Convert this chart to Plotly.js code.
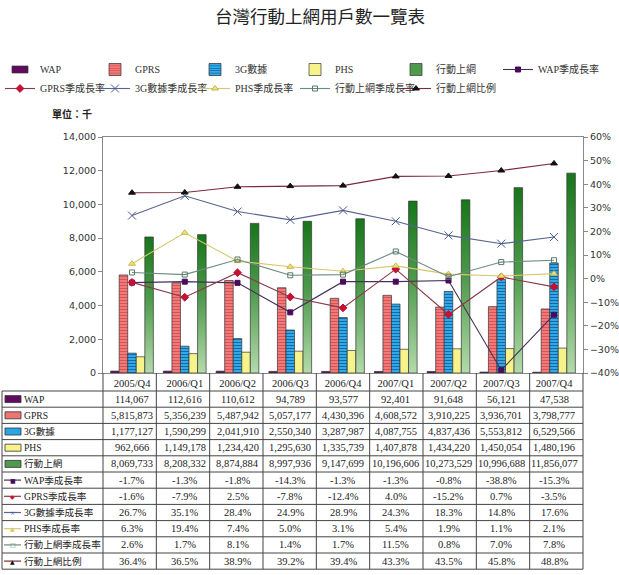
<!DOCTYPE html>
<html>
<head>
<meta charset="utf-8">
<script src="https://cdn.plot.ly/plotly-3.0.1.min.js"></script>
<style>
  html, body { margin: 0; padding: 0; background: #fff; }
  #chart { width: 619px; height: 575px; }
</style>
</head>
<body>
<div id="chart"></div>
<script>
// Quarters
const quarters = ['2005/Q4', '2006/Q1', '2006/Q2', '2006/Q3', '2006/Q4', '2007/Q1', '2007/Q2', '2007/Q3', '2007/Q4'];

// Subscriber counts (users)
const wapUsers    = [114067, 112616, 110612, 94789, 93577, 92401, 91648, 56121, 47538];
const gprsUsers   = [5815873, 5356239, 5487942, 5057177, 4430396, 4608572, 3910225, 3936701, 3798777];
const g3Users     = [1177127, 1590299, 2041910, 2550340, 3287987, 4087755, 4837436, 5553812, 6529566];
const phsUsers    = [962666, 1149178, 1234420, 1295630, 1335739, 1407878, 1434220, 1450054, 1480196];
const mobileUsers = [8069733, 8208332, 8874884, 8997936, 9147699, 10196606, 10273529, 10996688, 11856077];

// Quarter-on-quarter growth and share (%)
const wapGrowth    = [-1.7, -1.3, -1.8, -14.3, -1.3, -1.3, -0.8, -38.8, -15.3];
const gprsGrowth   = [-1.6, -7.9, 2.5, -7.8, -12.4, 4.0, -15.2, 0.7, -3.5];
const g3Growth     = [26.7, 35.1, 28.4, 24.9, 28.9, 24.3, 18.3, 14.8, 17.6];
const phsGrowth    = [6.3, 19.4, 7.4, 5.0, 3.1, 5.4, 1.9, 1.1, 2.1];
const mobileGrowth = [2.6, 1.7, 8.1, 1.4, 1.7, 11.5, 0.8, 7.0, 7.8];
const mobileShare  = [36.4, 36.5, 38.9, 39.2, 39.4, 43.3, 43.5, 45.8, 48.8];

// Series names
const barNames  = ['WAP', 'GPRS', '3G數據', 'PHS', '行動上網'];
const lineNames = ['WAP季成長率', 'GPRS季成長率', '3G數據季成長率', 'PHS季成長率', '行動上網季成長率', '行動上網比例'];

const barValues  = [wapUsers, gprsUsers, g3Users, phsUsers, mobileUsers];
const lineValues = [wapGrowth, gprsGrowth, g3Growth, phsGrowth, mobileGrowth, mobileShare];

// ---- styles ----
const barStyles = [
  { color: '#600a60' },
  { color: '#f07474', pattern: { shape: '-', fgcolor: '#d65050', bgcolor: '#f07a7a', size: 3, solidity: 0.3 } },
  { color: '#2aa6e4', pattern: { shape: '-', fgcolor: '#16609c', bgcolor: '#2eaae8', size: 3, solidity: 0.3 } },
  { color: '#f6f38a' },
  { color: '#4f9a4c' }
];
const lineStyles = [
  { line: '#44305a', symbol: 'square', size: 5, mcolor: '#4b0b5b', mline: '#4b0b5b', key: '■' },
  { line: '#8a3a48', symbol: 'diamond', size: 6, mcolor: '#c41232', mline: '#c41232', key: '◆' },
  { line: '#56648f', symbol: 'x-thin-open', size: 8, mcolor: '#4a5a8e', mline: '#4a5a8e', key: '×' },
  { line: '#d6c86e', symbol: 'triangle-up', size: 6, mcolor: '#eee27a', mline: '#c8b648', key: '▲' },
  { line: '#6a8e7e', symbol: 'square-open', size: 5, mcolor: '#5a7a6a', mline: '#5a7a6a', key: '□' },
  { line: '#7a2a3a', symbol: 'triangle-up', size: 6, mcolor: '#111111', mline: '#111111', key: '▲' }
];

// key columns: legend id for each bar series and each line series
const barLegend  = ['legend', 'legend2', 'legend3', 'legend4', 'legend5'];
const lineLegend = ['legend6', 'legend', 'legend2', 'legend3', 'legend4', 'legend5'];
const legendTextX = { legend: 40, legend2: 135, legend3: 235, legend4: 335, legend5: 436, legend6: 538 };

const W = 619, H = 575;
const M = { l: 103, r: 36, t: 137, b: 202 };
const PW = W - M.l - M.r, PH = H - M.t - M.b;
const px2x = p => (p - M.l) / PW;
const py2y = p => (M.t + PH - p) / PH;

const traces = [];
barNames.forEach((name, i) => {
  const st = barStyles[i];
  const marker = { color: st.color, line: { color: '#333', width: 0.7 } };
  if (st.pattern) marker.pattern = st.pattern;
  traces.push({
    type: 'bar', name: name, x: quarters,
    y: barValues[i].map(v => v / 1000),
    marker: marker, yaxis: 'y', legend: barLegend[i]
  });
});
lineNames.forEach((name, i) => {
  const st = lineStyles[i];
  traces.push({
    type: 'scatter', mode: 'lines+markers', name: name, x: quarters,
    y: lineValues[i], yaxis: 'y2', legend: lineLegend[i],
    line: { color: st.line, width: 1.1 },
    marker: { symbol: st.symbol, size: st.size, color: st.mcolor, line: { color: st.mline, width: 1 } },
    cliponaxis: false
  });
});

// ---- data table under the plot ----
const tableFont = { family: 'Liberation Serif, Noto Sans CJK TC, serif', size: 10.5, color: '#222' };
const labelFont = { family: 'Liberation Serif, Noto Sans CJK TC, serif', size: 9.6, color: '#222' };
const headBottom = 391, rowH = 16.2;
const rowLabels = barNames.concat(lineNames);
const rowTexts = barValues.map(arr => arr.map(v => v.toLocaleString('en-US')))
  .concat(lineValues.map(arr => arr.map(v => v.toFixed(1) + '%')));

const shapes = [];
const annotations = [];
const gridLine = { color: '#444', width: 1 };
const tableLeft = 2, tableBottom = headBottom + rowH * rowLabels.length;

// horizontal rules
for (let r = 0; r <= rowLabels.length; r++) {
  const y = py2y(headBottom + r * rowH);
  shapes.push({ type: 'line', xref: 'paper', yref: 'paper', x0: px2x(tableLeft), x1: 1, y0: y, y1: y, line: gridLine });
}
// column rules (header cells included)
for (let c = 0; c <= quarters.length; c++) {
  const x = c / quarters.length;
  shapes.push({ type: 'line', xref: 'paper', yref: 'paper', x0: x, x1: x, y0: 0, y1: py2y(tableBottom), line: gridLine });
}
shapes.push({ type: 'line', xref: 'paper', yref: 'paper', x0: px2x(tableLeft), x1: px2x(tableLeft), y0: py2y(headBottom), y1: py2y(tableBottom), line: gridLine });

rowLabels.forEach((label, r) => {
  const cy = headBottom + r * rowH + rowH / 2;
  // row key
  if (r < barNames.length) {
    shapes.push({ type: 'rect', xref: 'paper', yref: 'paper',
      x0: px2x(5), x1: px2x(21), y0: py2y(cy + 3.5), y1: py2y(cy - 3.5),
      fillcolor: barStyles[r].color, line: { color: '#333', width: 0.8 } });
  } else {
    const st = lineStyles[r - barNames.length];
    shapes.push({ type: 'line', xref: 'paper', yref: 'paper',
      x0: px2x(4), x1: px2x(21), y0: py2y(cy), y1: py2y(cy), line: { color: st.line, width: 1.2 } });
    annotations.push({ xref: 'paper', yref: 'paper', x: px2x(12.5), y: py2y(cy), text: st.key,
      showarrow: false, xanchor: 'center', yanchor: 'middle',
      font: { family: 'DejaVu Sans', size: 6, color: st.mcolor === '#eee27a' ? '#d8c860' : st.mcolor } });
  }
  annotations.push({ xref: 'paper', yref: 'paper', x: px2x(22), y: py2y(cy), text: label,
    showarrow: false, xanchor: 'left', yanchor: 'middle', font: labelFont });
  quarters.forEach((q, c) => {
    annotations.push({ xref: 'x', yref: 'paper', x: q, y: py2y(cy), text: rowTexts[r][c],
      showarrow: false, xanchor: 'center', yanchor: 'middle', font: tableFont });
  });
});

// unit note
annotations.push({ xref: 'paper', yref: 'paper', x: px2x(50), y: py2y(113), text: '<b>單位：千</b>',
  showarrow: false, xanchor: 'left', yanchor: 'middle',
  font: { family: 'Noto Sans CJK TC', size: 10, color: '#222' } });

const axisFont = { family: 'DejaVu Sans, sans-serif', size: 9.5, color: '#333' };
const legendFont = { family: 'Liberation Serif, Noto Sans CJK TC, serif', size: 10, color: '#333' };

const layout = {
  width: W, height: H,
  margin: M,
  paper_bgcolor: '#ffffff', plot_bgcolor: '#ffffff',
  title: {
    text: '台灣行動上網用戶數一覽表',
    font: { family: 'Noto Sans CJK TC', size: 17.5, color: '#222' },
    xref: 'container', yref: 'container', x: 320 / W, y: 1 - 17 / H,
    xanchor: 'center', yanchor: 'middle'
  },
  barmode: 'group', bargap: 0.19, bargroupgap: 0,
  showlegend: true,
  xaxis: {
    type: 'category', categoryorder: 'array', categoryarray: quarters,
    showline: true, linecolor: '#888', linewidth: 1, mirror: true,
    ticks: '', showgrid: false, zeroline: false,
    tickfont: { family: 'Liberation Serif, serif', size: 10.5, color: '#222' }
  },
  yaxis: {
    range: [0, 14000], dtick: 2000, tickformat: ',d',
    ticks: 'outside', ticklen: 4, tickcolor: '#888',
    showline: true, linecolor: '#888', linewidth: 1,
    showgrid: false, zeroline: false, tickfont: axisFont
  },
  yaxis2: {
    overlaying: 'y', side: 'right',
    range: [-40, 60], dtick: 10, ticksuffix: '%',
    ticks: 'outside', ticklen: 4, tickcolor: '#888',
    showline: true, linecolor: '#888', linewidth: 1,
    showgrid: false, zeroline: false, tickfont: axisFont
  },
  shapes: shapes,
  annotations: annotations
};

// one vertical key column per legend
Object.keys(legendTextX).forEach(id => {
  layout[id] = {
    orientation: 'v', xref: 'paper', yref: 'container',
    x: px2x(legendTextX[id] - 40), y: 1 - 55 / H, xanchor: 'left', yanchor: 'top',
    itemwidth: 30, tracegroupgap: 0, traceorder: 'normal',
    font: legendFont, bgcolor: 'rgba(0,0,0,0)', borderwidth: 0
  };
});

const gd = document.getElementById('chart');
Plotly.newPlot(gd, traces, layout, { displayModeBar: false, staticPlot: true }).then(() => {
  // vertical green shading for the 行動上網 bars
  const svg = gd.querySelector('svg.main-svg');
  const defs = svg.querySelector('defs');
  const ns = 'http://www.w3.org/2000/svg';
  const grad = document.createElementNS(ns, 'linearGradient');
  grad.setAttribute('id', 'mobileShade');
  grad.setAttribute('x1', '0'); grad.setAttribute('y1', '0');
  grad.setAttribute('x2', '0'); grad.setAttribute('y2', '1');
  [['0', '#17761a'], ['0.45', '#4d9a4b'], ['1', '#b4dbac']].forEach(([o, c]) => {
    const s = document.createElementNS(ns, 'stop');
    s.setAttribute('offset', o); s.setAttribute('stop-color', c);
    grad.appendChild(s);
  });
  defs.appendChild(grad);
  const barTraces = gd.querySelectorAll('.barlayer .trace.bars');
  if (barTraces[4]) barTraces[4].querySelectorAll('path').forEach(p => { p.style.fill = 'url(#mobileShade)'; });
  // flatter rectangular swatches for the bar keys
  gd.querySelectorAll('.legend .traces').forEach(t => {
    const txt = t.querySelector('.legendtext');
    const name = txt ? txt.textContent : '';
    if (barNames.indexOf(name) >= 0) {
      t.querySelectorAll('.legendpoints path.legendundefined, .legendpoints .legendbar path, .legendpoints path').forEach(p => {
        if (p.getAttribute('d') && /^M6,6H-6V-6H6Z$/.test(p.getAttribute('d'))) p.setAttribute('d', 'M8,3.5H-8V-3.5H8Z');
        if (name === '行動上網') p.style.fill = 'url(#mobileShade)';
      });
    }
  });
});
</script>
</body>
</html>
